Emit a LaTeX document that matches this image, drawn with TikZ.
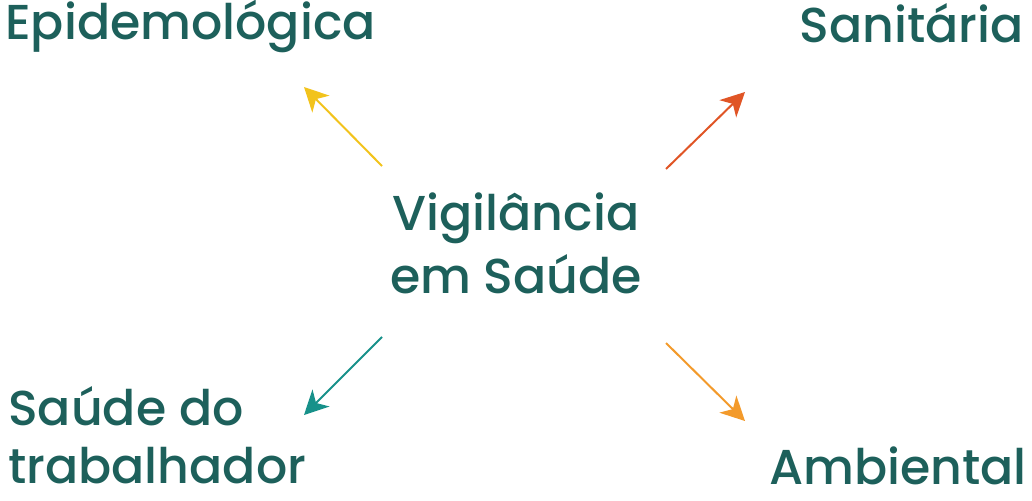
\documentclass[tikz,border=0pt]{standalone}
\usepackage{fontspec}
\setmainfont{Poppins Medium}
\usetikzlibrary{arrows.meta}
\usetikzlibrary{positioning}
\definecolor{tealtext}{HTML}{1D605B}
\definecolor{epiyellow}{HTML}{F2C31C}
\definecolor{sanred}{HTML}{E05526}
\definecolor{trabteal}{HTML}{17918A}
\definecolor{ambiorange}{HTML}{F39A2B}

\begin{document}
\begin{tikzpicture}[x=1pt, y=-1pt,
       label/.style={text=tealtext, font=\fontsize{49}{60}\selectfont, inner sep=0pt},
       seta/.style={line width=2pt, -{Stealth[length=24pt, width=24pt, inset=7pt]}}]
       \useasboundingbox (0,0) rectangle (1032,500);

       \node[label, anchor=base west] (epi) at (5, 40) {Epidemológica};
       \node[label, anchor=base east] (san) at (1024, 43) {Sanitária};
       \node[label, anchor=base west, align=left, font=\fontsize{49}{58}\selectfont] (trab) at (8, 483) {Saúde do\\trabalhador};
       \node[label, anchor=base east] (amb) at (1027, 484) {Ambiental};
       \node[label, anchor=base, align=center, font=\fontsize{49}{63}\selectfont] (vig) at (516, 293) {Vigilância\\em Saúde};

       \coordinate (epiA) at (382, 166);  \coordinate (epiB) at (304, 87);
       \coordinate (sanA) at (666, 169);  \coordinate (sanB) at (745, 92);
       \coordinate (trabA) at (382, 337); \coordinate (trabB) at (304, 415);
       \coordinate (ambA) at (666, 343);  \coordinate (ambB) at (745, 421);

       \draw[seta, epiyellow] (epiA) -- (epiB);
       \draw[seta, sanred] (sanA) -- (sanB);
       \draw[seta, trabteal] (trabA) -- (trabB);
       \draw[seta, ambiorange] (ambA) -- (ambB);
    \end{tikzpicture}
\end{document}
